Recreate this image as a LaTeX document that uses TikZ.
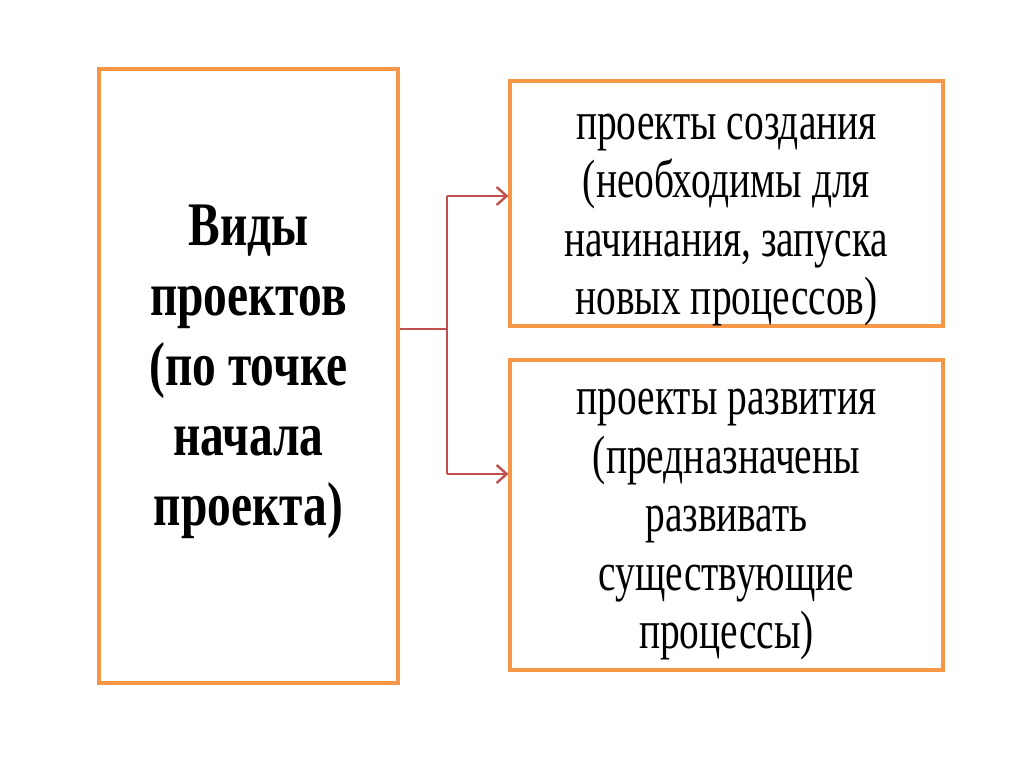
\documentclass[tikz,border=0pt]{standalone}
\usepackage{fontspec}
\setmainfont{Liberation Serif}[FakeStretch=0.73, BoldFeatures={FakeStretch=0.765}]
\usetikzlibrary{arrows.meta}
\definecolor{boxorange}{HTML}{F79646}
\definecolor{linkred}{HTML}{C0504D}
\tikzset{
  framebox/.style={draw=boxorange, line width=3.2pt, inner sep=0pt},
  lefttext/.style={align=center, font=\fontsize{62}{70}\selectfont\bfseries},
  righttext/.style={align=center, font=\fontsize{54}{58.5}\selectfont},
  link/.style={draw=linkred, line width=2.4pt},
  arrowlink/.style={link, -{Straight Barb[length=10pt,width=18pt,line width=2.4pt]}}
}
\begin{document}
\begin{tikzpicture}[x=1pt,y=-1pt]
\useasboundingbox[fill=white] (0,0) rectangle (1024,767);
\node[framebox, minimum width=299pt, minimum height=614pt] (L) at (248.5,376) {};
\node[framebox, minimum width=433pt, minimum height=245pt] (T) at (726.5,203.5) {};
\node[framebox, minimum width=433pt, minimum height=310pt] (B) at (726.5,515) {};
\node[lefttext] (Lt) at (248.5,372) {Виды\\проектов\\(по точке\\начала\\проекта)};
\node[righttext] (Tt) at (726.5,220) {проекты создания\\(необходимы для\\начинания, запуска\\новых процессов)};
\node[righttext] (Bt) at (726.5,525) {проекты развития\\(предназначены\\развивать\\существующие\\процессы)};
\coordinate (J) at (447,329);
\coordinate (J1) at (447,196);
\coordinate (J2) at (447,474);
\draw[link] (L.east |- J) -- (J);
\draw[link] (J1) -- (J2);
\draw[arrowlink] (J1) -- (T.west |- J1);
\draw[arrowlink] (J2) -- (B.west |- J2);
\end{tikzpicture}
\end{document}
